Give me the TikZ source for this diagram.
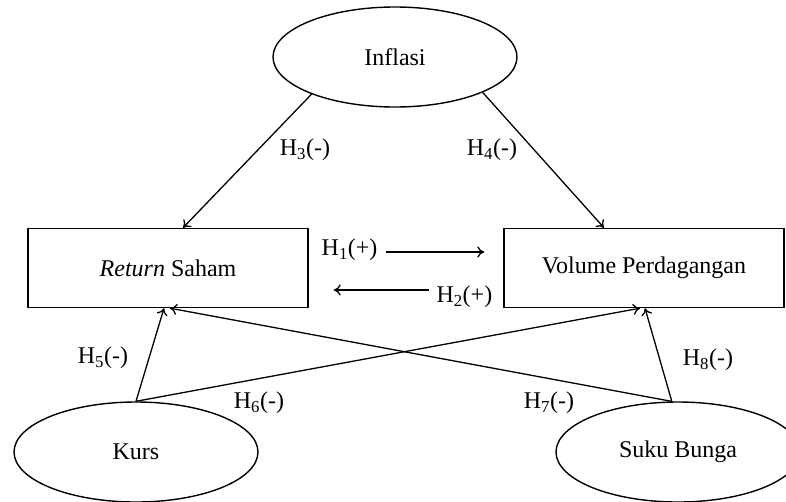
\documentclass[tikz,border=0pt]{standalone}
\usepackage{fontspec}
\setmainfont{Liberation Serif}
\usetikzlibrary{arrows.meta,shapes.geometric}

\begin{document}
\begin{tikzpicture}[
x=1pt, y=-1pt, >={To[length=7pt,width=11pt]},
every node/.style = {font=\fontsize{24}{28}\selectfont},
    E/.style = {ellipse, draw, line width=1.4pt,% variables drawn as ellipses
                minimum width=244pt, minimum height=100pt, inner sep=0pt},
    B/.style = {rectangle, draw, line width=1.4pt,% variables drawn as boxes
                minimum width=280pt, minimum height=79pt, inner sep=0pt},
    A/.style = {->, line width=1.3pt},
    L/.style = {inner sep=1pt},
                        ]
\useasboundingbox (0,0) rectangle (786,501);
\node[E] (infl) at (395,57)  {Inflasi};
\node[B] (ret)  at (168,268) {\textit{Return} Saham};
\node[B] (vol)  at (644,268) {Volume Perdagangan};
\node[E] (kurs) at (136,452) {Kurs};
\node[E] (suku) at (678,452) {Suku Bunga};
% hypotheses
\draw[A] (infl.204) -- ([xshift=15pt]ret.north);
\draw[A] (infl.-22) -- ([xshift=-40pt]vol.north);
\draw[A, shorten <=77pt, shorten >=19pt] ([yshift=16pt]ret.east) --
    node[L, pos=0.21, yshift=2pt] (h1) {H\textsubscript{1}(+)} ([yshift=16pt]vol.west);
\draw[A, shorten <=74pt, shorten >=25pt] ([yshift=-22pt]vol.west) --
    node[L, pos=0.2, yshift=-7pt] (h2) {H\textsubscript{2}(+)} ([yshift=-22pt]ret.east);
\draw[A] (kurs.north) -- ([xshift=-4pt]ret.south);
\draw[A] (kurs.north) -- ([xshift=-4pt]vol.south);
\draw[A] (suku.97) -- ([xshift=2pt]ret.south);
\draw[A] (suku.97) -- ([xshift=1pt]vol.south);
% labels
\node[L] (h3) at (305,150) {H\textsubscript{3}(-)};
\node[L] (h4) at (492,150) {H\textsubscript{4}(-)};
\node[L] (h5) at (103,358) {H\textsubscript{5}(-)};
\node[L] (h6) at (259,403) {H\textsubscript{6}(-)};
\node[L] (h7) at (549,403) {H\textsubscript{7}(-)};
\node[L] (h8) at (708,360) {H\textsubscript{8}(-)};
\end{tikzpicture}
\end{document}
